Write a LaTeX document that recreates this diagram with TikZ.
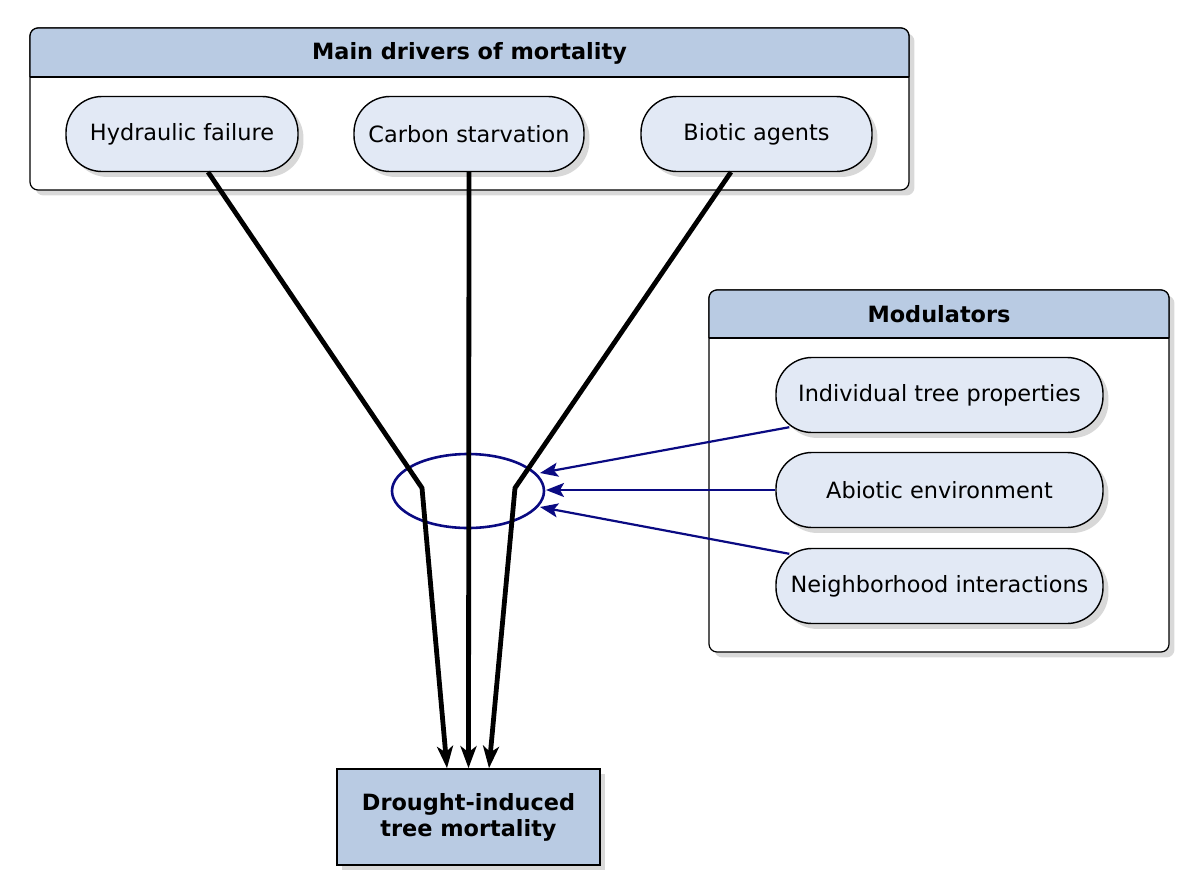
\documentclass[tikz,border=0pt]{standalone}
\usepackage{fontspec}
\setmainfont{DejaVu Sans}
\usetikzlibrary{shadows,arrows.meta}
\definecolor{headblue}{RGB}{185,203,227}
\definecolor{pillblue}{RGB}{226,233,245}
\definecolor{modblue}{RGB}{10,10,130}
\tikzset{
  pill/.style={draw,line width=0.7pt,fill=pillblue,rounded corners=18pt,minimum height=37.5pt,drop shadow={opacity=0.3},font=\fontsize{11.2}{13}\selectfont},
  drive/.style={line width=2.4pt,-{Stealth[length=11pt,width=8pt,inset=3pt]}},
  modarrow/.style={line width=1.1pt,modblue,-{Stealth[length=9pt,width=7pt,inset=2pt]}},
  headtext/.style={font=\fontsize{11.2}{13}\selectfont\bfseries}
}
\begin{document}
\begin{tikzpicture}[x=0.5pt,y=-0.5pt]
\useasboundingbox (0,0) rectangle (1200,895);

% main drivers box
\draw[fill=white,drop shadow={opacity=0.3},rounded corners=4pt,line width=0.6pt] (30,28) rectangle (909,190);
\draw[fill=headblue,rounded corners=4pt,line width=0.6pt] (30,77) -- (30,28) -- (909,28) -- (909,77);
\draw[line width=0.6pt] (30,77) -- (909,77);
\node[headtext] (drivers) at (469.5,53) {Main drivers of mortality};
\node[pill,minimum width=116pt] (hydraulic) at (182,134) {Hydraulic failure};
\node[pill,minimum width=115pt] (carbon) at (469,134) {Carbon starvation};
\node[pill,minimum width=115.5pt] (biotic) at (756.5,134) {Biotic agents};

% modulators box
\draw[fill=white,drop shadow={opacity=0.3},rounded corners=4pt,line width=0.6pt] (709,290) rectangle (1169,652);
\draw[fill=headblue,rounded corners=4pt,line width=0.6pt] (709,338) -- (709,290) -- (1169,290) -- (1169,338);
\draw[line width=0.6pt] (709,338) -- (1169,338);
\node[headtext] (modulators) at (939,314) {Modulators};
\node[pill,minimum width=163.5pt] (individual) at (939.5,395) {Individual tree properties};
\node[pill,minimum width=163.5pt] (abiotic) at (939.5,490) {Abiotic environment};
\node[pill,minimum width=163.5pt] (neighbor) at (939.5,586) {Neighborhood interactions};

% target
\node[draw,fill=headblue,line width=0.8pt,minimum width=131.5pt,minimum height=48pt,align=center,drop shadow={opacity=0.3},font=\fontsize{11.2}{13}\selectfont\bfseries] (mortality) at (468.5,817) {Drought-induced\\tree mortality};

% modulation ellipse
\draw[modblue,line width=1.3pt] (468,491) ellipse [x radius=76, y radius=37];
\coordinate (left) at (422,488);
\coordinate (right) at (515,488);
\coordinate (e1) at (540,473);
\coordinate (e2) at (546,490);
\coordinate (e3) at (540,507);

% pathways
\draw[drive] (208,172) -- (left) -- (mortality.north west -| 447,0);
\draw[drive] (carbon.south) -- (mortality.north);
\draw[drive] (731,172) -- (right) -- (mortality.north west -| 489,0);

\draw[modarrow] (individual.south west) ++(14,-6) -- (e1);
\draw[modarrow] (abiotic.west) -- (e2);
\draw[modarrow] (neighbor.north west) ++(14,6) -- (e3);
\end{tikzpicture}
\end{document}
